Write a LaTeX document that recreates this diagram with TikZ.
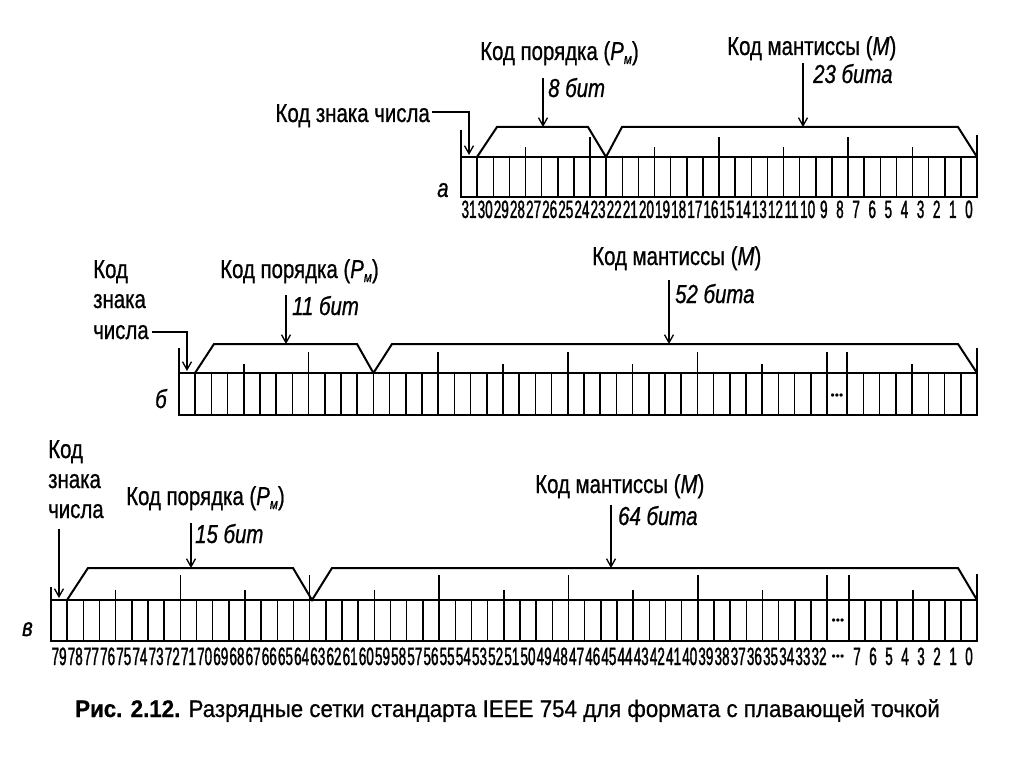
\documentclass[tikz,border=0pt]{standalone}
\usepackage{fontspec}
\setmainfont{Liberation Sans}
\newfontfamily\lf[FakeStretch=0.785,FakeBold=0.8]{Liberation Sans}
\newfontfamily\nf[FakeStretch=0.54,FakeBold=1.2]{Liberation Sans}
\newfontfamily\cf[FakeStretch=0.93,FakeBold=0.6]{Liberation Sans}
\usetikzlibrary{arrows.meta,calc}
\newcommand\PmLab{(\textit{P}\raisebox{-4pt}{\fontsize{15}{15}\selectfont\itshape м})}
\newcommand\MLab{(\textit{М})}
\begin{document}
\begin{tikzpicture}[x=1pt,y=-1pt,
  cell/.style={line width=1.5pt},
  outer/.style={line width=2.2pt},
  trap/.style={line width=2pt,line join=miter},
  arr/.style={line width=1.3pt,-{Straight Barb[length=8pt,width=9pt]}},
  lbl/.style={inner sep=0,anchor=base west,font=\lf\fontsize{26}{30}\selectfont},
  ilbl/.style={inner sep=0,anchor=base west,font=\lf\itshape\fontsize{26}{30}\selectfont},
  num/.style={inner sep=0,anchor=base,font=\nf\fontsize{25}{25}\selectfont},
  dots/.style={inner sep=0,font=\fontsize{12}{12}\selectfont}]
\useasboundingbox (0,0) rectangle (1024,767);

% ================= row a =================
\foreach \i in {0,...,32} \draw[cell] ({461+\i*16.125},157) -- ({461+\i*16.125},197);
\draw[outer] (461,157) rectangle (977,197);
\foreach \k in {4,12,20,28} \draw[cell] ({461+\k*16.125},157) -- ++(0,-10);
\foreach \k in {8,16,24} \draw[cell] ({461+\k*16.125},157) -- ++(0,-20);
\draw[cell] (461,157) -- (461,130);
\draw[cell] (977,157) -- (977,135);
\draw[trap] (477,157) -- (497,127) -- (588,127) -- (606,157) -- (622,127) -- (958,127) -- (977,157);
\foreach \i [evaluate=\i as \lab using int(31-\i)] in {0,...,31}
  \node[num] (na\i) at ({461+(\i+0.5)*16.125},218) {\lab};
\node[ilbl] (rowa) at (437,197) {а};

\node[lbl,anchor=base east] (signA) at (430,122) {Код знака числа};
\coordinate (signAT) at (469,155);
\draw[arr] ($(signA.base east)+(2,-10)$) -| (signAT);

\node[lbl] (expA) at (480,60) {Код порядка \PmLab};
\node[ilbl] (expAb) at (548,97) {8 бит};
\coordinate (expAs) at (543,78);
\coordinate (expAt) at (543,127);
\draw[arr] (expAs) -- (expAt);

\node[lbl] (manA) at (727,55) {Код мантиссы \MLab};
\node[ilbl] (manAb) at (813,83) {23 бита};
\coordinate (manAs) at (803,63);
\coordinate (manAt) at (803,127);
\draw[arr] (manAs) -- (manAt);

% ================= row b =================
\foreach \i in {0,...,40} \draw[cell] ({179+\i*16.2},373) -- ({179+\i*16.2},415);
\foreach \i in {0,...,8} \draw[cell] ({847+\i*16.25},373) -- ({847+\i*16.25},415);
\draw[outer] (179,373) rectangle (977,415);
\foreach \k in {4,20,28,36} \draw[cell] ({179+\k*16.2},373) -- ++(0,-9);
\foreach \k in {8,16,24,32,40} \draw[cell] ({179+\k*16.2},373) -- ++(0,-21);
\draw[cell] (847,373) -- ++(0,-21);
\draw[cell] (912,373) -- ++(0,-9);
\draw[cell] (179,373) -- (179,348);
\draw[cell] (977,373) -- (977,348);
\draw[trap] (195,373) -- (214,344) -- (357,344) -- (373.4,373) -- (392,344) -- (958,344) -- (977,373);
\node[dots] (dotsB) at (837,397) {•••};
\node[ilbl] (rowb) at (155,408) {б};

\node[lbl] (sb1) at (93,278) {Код};
\node[lbl] (sb2) at (93,308) {знака};
\node[lbl] (sb3) at (93,339) {числа};
\coordinate (signBT) at (187,371);
\draw[arr] ($(sb3.base east)+(3,-7)$) -| (signBT);

\node[lbl] (expB) at (220,278) {Код порядка \PmLab};
\node[ilbl] (expBb) at (292,315) {11 бит};
\coordinate (expBs) at (286,295);
\coordinate (expBt) at (286,344);
\draw[arr] (expBs) -- (expBt);

\node[lbl] (manB) at (592,265) {Код мантиссы \MLab};
\node[ilbl] (manBb) at (675,303) {52 бита};
\coordinate (manBs) at (669,280);
\coordinate (manBt) at (669,344);
\draw[arr] (manBs) -- (manBt);

% ================= row c =================
\foreach \i in {0,...,48} \draw[cell] ({51+\i*16.17},600) -- ({51+\i*16.17},641);
\foreach \i in {0,...,8} \draw[cell] ({849+\i*16},600) -- ({849+\i*16},641);
\draw[outer] (51,600) rectangle (977,641);
\foreach \k in {4,12,20,28,36,44} \draw[cell] ({51+\k*16.17},600) -- ++(0,-10);
\foreach \k in {8,16,24,32,40,48} \draw[cell] ({51+\k*16.17},600) -- ++(0,-25);
\draw[cell] (849,600) -- ++(0,-25);
\draw[cell] (913,600) -- ++(0,-10);
\draw[cell] (51,600) -- (51,587);
\draw[cell] (977,600) -- (977,574);
\draw[trap] (67,600) -- (88,568) -- (293,568) -- (312,600) -- (332,568) -- (958,568) -- (977,600);
\foreach \i [evaluate=\i as \lab using int(79-\i)] in {0,...,47}
  \node[num] (nc\i) at ({51+(\i+0.5)*16.17},665) {\lab};
\foreach \i [evaluate=\i as \lab using int(7-\i)] in {0,...,7}
  \node[num] (ncl\i) at ({849+(\i+0.5)*16},665) {\lab};
\node[dots] (dotsC) at (838,622) {•••};
\node[dots] (dotsCn) at (838,658) {•••};
\node[ilbl] (rowc) at (22,636) {в};

\node[lbl] (sc1) at (48,458) {Код};
\node[lbl] (sc2) at (48,488) {знака};
\node[lbl] (sc3) at (48,518) {числа};
\coordinate (signCs) at (59,529);
\coordinate (signCt) at (59,598);
\draw[arr] (signCs) -- (signCt);

\node[lbl] (expC) at (126,505) {Код порядка \PmLab};
\node[ilbl] (expCb) at (195,543) {15 бит};
\coordinate (expCs) at (191,523);
\coordinate (expCt) at (191,568);
\draw[arr] (expCs) -- (expCt);

\node[lbl] (manC) at (535,493) {Код мантиссы \MLab};
\node[ilbl] (manCb) at (618,525) {64 бита};
\coordinate (manCs) at (611,505);
\coordinate (manCt) at (611,568);
\draw[arr] (manCs) -- (manCt);

% ================= caption =================
\node[inner sep=0,anchor=base west,font=\cf\fontsize{24}{28}\selectfont] (cap) at (75,717)
  {\textbf{Рис. 2.12.} Разрядные сетки стандарта IEEE 754 для формата с плавающей точкой};
\end{tikzpicture}
\end{document}
